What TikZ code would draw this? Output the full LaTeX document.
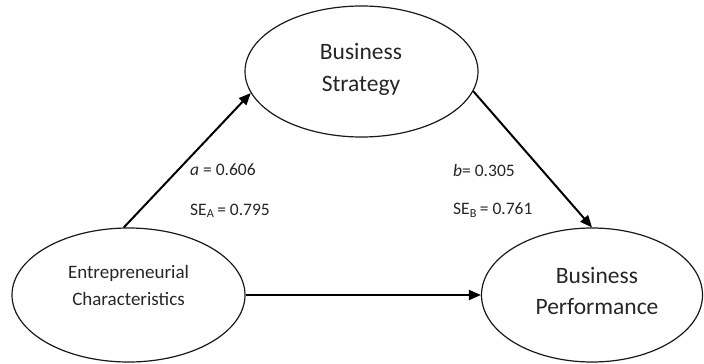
\documentclass[tikz,border=0pt]{standalone}
\usepackage{fontspec}
\setmainfont{Carlito}
\usetikzlibrary{shapes.geometric,arrows.meta}
\begin{document}
\begin{tikzpicture}[x=1pt,y=-1pt,
  oval/.style={draw=black!90,line width=1.2pt,ellipse,inner sep=0pt},
  bigtext/.style={align=center,text=black!85,font=\fontsize{23.5}{31.5}\selectfont},
  midtext/.style={align=center,text=black!85,font=\fontsize{19}{27}\selectfont},
  coef/.style={anchor=west,text=black!85,inner sep=0pt,font=\fontsize{17.5}{20}\selectfont},
  link/.style={line width=2pt,draw=black,-{Triangle[length=12pt,width=10pt]}}]
\useasboundingbox (0,0) rectangle (704,364);
\node[oval,minimum width=233pt,minimum height=131pt] (bs) at (361.5,71.5) {};
\node[oval,minimum width=233pt,minimum height=134pt] (ec) at (128.5,295) {};
\node[oval,minimum width=221pt,minimum height=134pt] (bp) at (592,295) {};
\node[bigtext] (bst) at (361,69.5) {Business\\Strategy};
\node[midtext] (ect) at (128.5,285.5) {Entrepreneurial\\Characteristics};
\node[bigtext] (bpt) at (597,291) {Business\\Performance};
\draw[link] (ec.94) -- (bs.191.7);
\draw[link] (bs.350.7) -- (bp.90);
\draw[link] (ec.east) -- (bp.west);
\node[coef] (la) at (190,170) {\textit{a} = 0.606};
\node[coef] (lsa) at (190,211) {SE\textsubscript{A}\,= 0.795};
\node[coef] (lb) at (453,170) {\textit{b}= 0.305};
\node[coef] (lsb) at (453,210) {SE\textsubscript{B}\,= 0.761};
\end{tikzpicture}
\end{document}
